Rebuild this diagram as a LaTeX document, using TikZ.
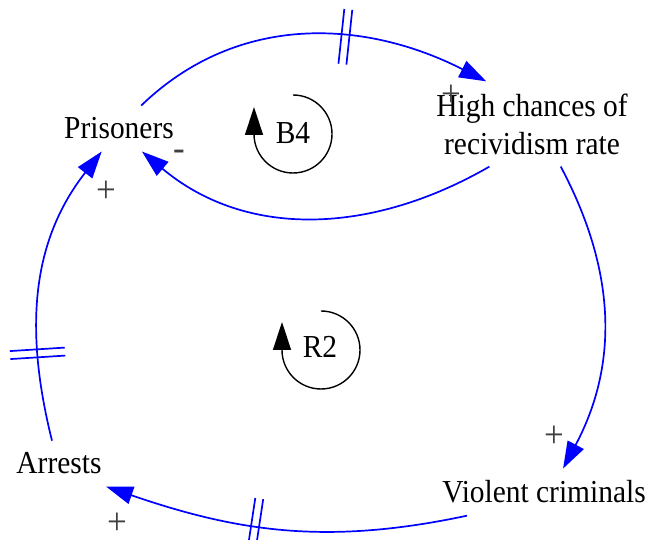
\documentclass[tikz,border=0pt]{standalone}
\usepackage{fontspec}
\setmainfont{Liberation Serif}[FakeStretch=0.92]
\usetikzlibrary{arrows.meta, decorations.markings}
\definecolor{linkblue}{RGB}{0,0,255}
\definecolor{polgray}{RGB}{64,64,64}

\begin{document}
\begin{tikzpicture}[x=1pt, y=1pt,
  var/.style={inner sep=12pt, align=center, font=\fontsize{32}{38}\selectfont},
  link/.style={draw=linkblue, line width=1.7pt, -{Triangle[length=27pt, width=18pt]}},
  loopar/.style={draw=black, line width=1.4pt, -{Triangle[length=28pt, width=18pt]}},
  looplbl/.style={anchor=base, inner sep=0pt, font=\fontsize{32}{32}\selectfont},
  polar/.style={inner sep=0pt, text=polgray, font=\fontsize{38}{38}\selectfont},
  delaymark/.style={postaction={decorate, decoration={markings, mark=at position #1 with {
    \draw[-, draw=linkblue, line width=1.7pt] (-4,-27.5) -- (-4,27.5) (4,-27.5) -- (4,27.5);}}}}
]
  \useasboundingbox (0,0) rectangle (645,540);

  % variables
  \node[var, anchor=base] (pris) at (119,401) {Prisoners};
  \node[var] (recid) at (532,416) {High chances of\\recividism rate};
  \node[var, anchor=base] (arrests) at (59,66) {Arrests};
  \node[var, anchor=base] (violent) at (544,37) {Violent criminals};

  % causal links
  \draw[link, delaymark=0.6] (pris.46) to[out=44, in=153] (recid.137);
  \draw[link] (recid.225) to[out=210, in=-40] (pris.-45);
  \draw[link] (recid.-56) to[out=-62, in=62] (violent.51);
  \draw[link, delaymark=0.58] (violent.197) to[out=192, in=-19] (arrests.-26);
  \draw[link, delaymark=0.29] (arrests.107) to[out=104, in=232] (pris.233);

  % polarities
  \node[polar] (pol1) at (451,444) {+};
  \node[polar] (pol2) at (179,385) {-};
  \node[polar] (pol3) at (106,348) {+};
  \node[polar] (pol4) at (117,16) {+};
  \node[polar] (pol5) at (554,103) {+};

  % loops
  \node[looplbl] (b4) at (293,396) {B4};
  \draw[loopar] (293,445) arc[start angle=90, end angle=-180, radius=39] -- ++(0,27);
  \node[looplbl] (r2) at (320,182) {R2};
  \draw[loopar] (321,229) arc[start angle=90, end angle=-180, radius=39] -- ++(0,28);
\end{tikzpicture}
\end{document}
